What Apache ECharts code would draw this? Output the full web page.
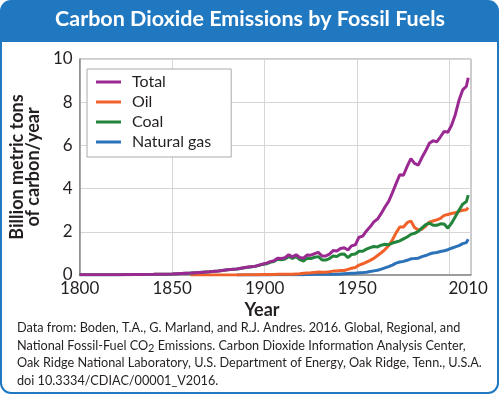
<!DOCTYPE html>
<html>
<head>
<meta charset="utf-8">
<script src="https://cdn.jsdelivr.net/npm/echarts@6/dist/echarts.min.js"></script>
<style>
  html, body { margin: 0; padding: 0; background: #fff; }
  #chart { width: 500px; height: 396px; }
</style>
</head>
<body>
<div id="chart"></div>
<script>
// years (sparse before 1900, every other year after)
var years = [1800, 1810, 1820, 1830, 1840, 1850, 1855, 1860, 1865, 1870, 1875, 1880, 1885, 1890, 1895, 1899,
  1901, 1903, 1905, 1907, 1909, 1911, 1913, 1915, 1917, 1919, 1921, 1923, 1925, 1927, 1929,
  1931, 1933, 1935, 1937, 1939, 1941, 1943, 1945, 1947, 1949, 1951, 1953, 1955, 1957, 1959,
  1961, 1963, 1965, 1967, 1969, 1971, 1973, 1975, 1977, 1979, 1981, 1983, 1985, 1987, 1989,
  1991, 1993, 1995, 1997, 1999, 2001, 2003, 2005, 2007, 2009, 2010]

// billion metric tons of carbon / year
var total = [0.01, 0.01, 0.01, 0.02, 0.03, 0.05, 0.07, 0.09, 0.12, 0.15, 0.19, 0.24, 0.28, 0.36, 0.41, 0.51,
  0.55, 0.62, 0.66, 0.78, 0.76, 0.80, 0.94, 0.84, 0.94, 0.81, 0.78, 0.93, 0.92, 0.99, 1.05,
  0.88, 0.88, 0.97, 1.13, 1.11, 1.23, 1.26, 1.16, 1.35, 1.40, 1.75, 1.80, 2.04, 2.23, 2.46,
  2.59, 2.85, 3.15, 3.41, 3.80, 4.23, 4.64, 4.62, 5.03, 5.39, 5.17, 5.09, 5.44, 5.75, 6.10,
  6.22, 6.16, 6.40, 6.65, 6.61, 6.93, 7.42, 8.09, 8.57, 8.74, 9.13]

var oil = [null, null, null, null, null, null, null, 0, 0, 0, 0, 0, 0, 0.01, 0.01, 0.02,
  0.02, 0.02, 0.02, 0.03, 0.03, 0.03, 0.04, 0.04, 0.05, 0.06, 0.08, 0.09, 0.10, 0.12, 0.14,
  0.13, 0.13, 0.15, 0.18, 0.19, 0.21, 0.21, 0.26, 0.31, 0.35, 0.46, 0.52, 0.60, 0.68, 0.77,
  0.90, 1.03, 1.18, 1.36, 1.62, 1.95, 2.22, 2.22, 2.42, 2.50, 2.20, 2.08, 2.12, 2.26, 2.45,
  2.50, 2.55, 2.62, 2.76, 2.80, 2.85, 2.88, 2.95, 3.00, 3.02, 3.12]

var coal = [0.01, 0.01, 0.01, 0.02, 0.03, 0.05, 0.07, 0.09, 0.12, 0.15, 0.19, 0.24, 0.28, 0.35, 0.40, 0.49,
  0.52, 0.59, 0.62, 0.73, 0.71, 0.74, 0.86, 0.77, 0.85, 0.71, 0.65, 0.78, 0.76, 0.82, 0.85,
  0.70, 0.69, 0.76, 0.88, 0.86, 0.96, 0.97, 0.80, 0.95, 0.97, 1.10, 1.10, 1.20, 1.27, 1.32,
  1.30, 1.38, 1.42, 1.40, 1.48, 1.53, 1.58, 1.67, 1.76, 1.88, 1.93, 2.02, 2.18, 2.33, 2.40,
  2.30, 2.30, 2.37, 2.36, 2.17, 2.40, 2.70, 3.00, 3.28, 3.40, 3.70]

var gas = [null, null, null, null, null, null, null, null, null, null, null, null, 0, 0, 0, 0,
  0, 0, 0.01, 0.01, 0.01, 0.01, 0.01, 0.01, 0.01, 0.01, 0.01, 0.02, 0.02, 0.03, 0.03,
  0.03, 0.03, 0.03, 0.04, 0.04, 0.05, 0.06, 0.07, 0.08, 0.08, 0.10, 0.11, 0.13, 0.16, 0.19,
  0.22, 0.27, 0.33, 0.39, 0.46, 0.55, 0.60, 0.63, 0.68, 0.75, 0.76, 0.78, 0.85, 0.90, 0.97,
  1.02, 1.04, 1.09, 1.12, 1.17, 1.24, 1.30, 1.36, 1.45, 1.50, 1.65]

var xLabels = [1800, 1850, 1900, 1950, 2010]
var xGrid = [1850, 1900, 1950, 2000]

var colors = {
  total: '#9a2a92',
  oil: '#f0622a',
  coal: '#23853c',
  gas: '#2b72b8'
}
var frameBlue = '#1f78c0'

function pairs(arr) {
  return years.map(function (y, i) { return [y, arr[i]] })
}

function line(name, arr, color) {
  return {
    name: name,
    type: 'line',
    data: pairs(arr),
    showSymbol: false,
    connectNulls: false,
    lineStyle: { color: color, width: 3 },
    itemStyle: { color: color }
  }
}

var chart = echarts.init(document.getElementById('chart'))

chart.setOption({
  animation: false,
  textStyle: { fontFamily: 'Lato' },
  graphic: [
    {
      type: 'rect', z: -10,
      shape: { x: 1, y: 1, width: 497, height: 392, r: 10 },
      style: { fill: '#fff', stroke: frameBlue, lineWidth: 2 }
    },
    {
      type: 'rect', z: -9,
      shape: { x: 1, y: 1, width: 497, height: 41, r: [10, 10, 0, 0] },
      style: { fill: frameBlue }
    },
    {
      type: 'text', left: 'center', top: 8,
      style: { text: 'Carbon Dioxide Emissions by Fossil Fuels', fill: '#fff', font: 'bold 21.5px Lato' }
    },
    {
      type: 'text', x: 262, y: 310,
      style: { text: 'Year', fill: '#231f20', font: 'bold 18px Lato', align: 'center', verticalAlign: 'middle' }
    },
    {
      type: 'text', x: 17, y: 319,
      style: {
        text: 'Data from: Boden, T.A., G. Marland, and R.J. Andres. 2016. Global, Regional, and\n' +
          'National Fossil-Fuel CO{sub|2} Emissions. Carbon Dioxide Information Analysis Center,\n' +
          'Oak Ridge National Laboratory, U.S. Department of Energy, Oak Ridge, Tenn., U.S.A.\n' +
          'doi 10.3334/CDIAC/00001_V2016.',
        fill: '#231f20',
        font: '12.7px Lato',
        lineHeight: 17.7,
        rich: {
          sub: { fontSize: 11, fontFamily: 'Lato', padding: [6, 0, 0, 0], lineHeight: 17.7, fill: '#231f20' }
        }
      }
    }
  ],
  grid: {
    left: 75, right: 29, top: 59, bottom: 121,
    show: true, borderColor: '#9a9a9a', borderWidth: 1,
    containLabel: false
  },
  legend: {
    orient: 'vertical',
    left: 87, top: 69,
    data: ['Total', 'Oil', 'Coal', 'Natural gas'],
    icon: 'rect',
    itemWidth: 25, itemHeight: 3,
    itemGap: 2,
    padding: [4, 20, 6, 9],
    backgroundColor: '#fff',
    borderColor: '#aaaaaa', borderWidth: 1,
    textStyle: { fontSize: 16, fontFamily: 'Lato', color: '#231f20', lineHeight: 18, padding: [0, 0, 0, 6] }
  },
  xAxis: {
    type: 'value',
    min: 1800, max: 2011.5,
    axisLine: { show: true, lineStyle: { color: '#8c8c8c', width: 1.5 } },
    axisTick: { show: false, customValues: xGrid },
    axisLabel: {
      customValues: xLabels,
      fontSize: 17, color: '#231f20', margin: 5, fontFamily: 'Lato',
      formatter: function (v) { return String(v) }
    },
    splitLine: { show: true, lineStyle: { color: '#d6d6d6', width: 1 } }
  },
  yAxis: {
    type: 'value',
    min: 0, max: 10, interval: 2,
    name: 'Billion metric tons\nof carbon/year',
    nameLocation: 'middle',
    nameGap: 27,
    nameTextStyle: { fontSize: 18, fontWeight: 'bold', color: '#231f20', lineHeight: 16, fontFamily: 'Lato' },
    axisLine: { show: true, lineStyle: { color: '#8c8c8c', width: 1.5 } },
    axisTick: { show: false },
    axisLabel: { fontSize: 17, color: '#231f20', margin: 7, fontFamily: 'Lato' },
    splitLine: { show: true, lineStyle: { color: '#d6d6d6', width: 1 } }
  },
  series: [
    line('Natural gas', gas, colors.gas),
    line('Oil', oil, colors.oil),
    line('Coal', coal, colors.coal),
    line('Total', total, colors.total)
  ]
})
</script>
</body>
</html>
